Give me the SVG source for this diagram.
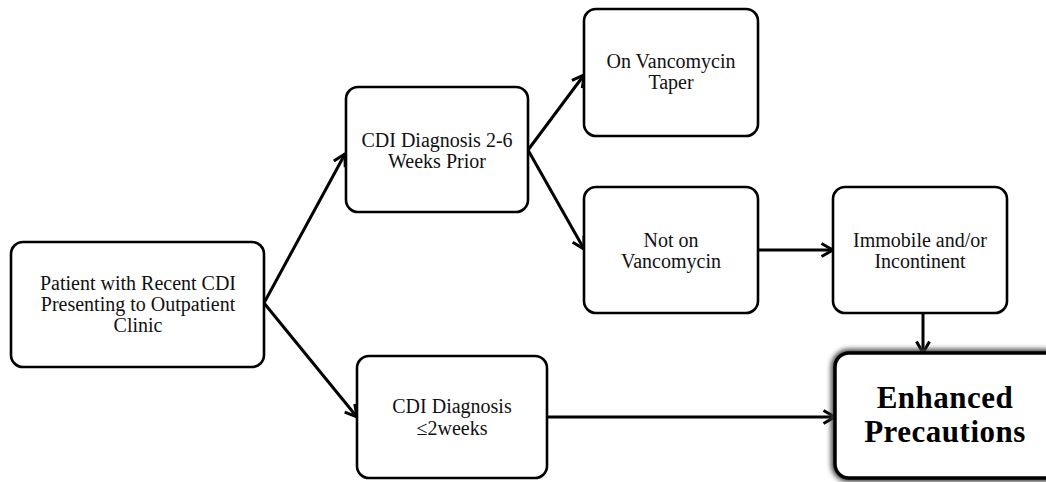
<svg xmlns="http://www.w3.org/2000/svg" width="1046" height="482" viewBox="0 0 1046 482">
<style>
.box{fill:#fff;stroke:#000;stroke-width:2.6}
.t{font-family:"Liberation Serif","Times New Roman",serif;font-size:20px;fill:#111;text-anchor:middle}
.tb{font-family:"Liberation Serif","Times New Roman",serif;font-size:31px;font-weight:bold;fill:#000;text-anchor:middle;letter-spacing:0.5px}
.c{fill:none;stroke:#000;stroke-width:3;marker-end:url(#arr)}
</style>
<defs>
<marker id="arr" viewBox="0 0 16 16" refX="14.5" refY="8" markerWidth="16" markerHeight="16" markerUnits="userSpaceOnUse" orient="auto">
<path d="M3,1.5 L14.5,8 L3,14.5" fill="none" stroke="#000" stroke-width="3"/>
</marker>
<filter id="glow" x="-10%" y="-15%" width="120%" height="130%">
<feGaussianBlur stdDeviation="2.5"/>
</filter>
</defs>
<rect width="1046" height="482" fill="#fff"/>
<g id="connectors">
<line class="c" x1="264" y1="303" x2="345" y2="154"/>
<line class="c" x1="264" y1="303" x2="357" y2="417"/>
<line class="c" x1="528" y1="150" x2="584" y2="75"/>
<line class="c" x1="528" y1="150" x2="584" y2="249"/>
<line class="c" x1="758" y1="250" x2="833" y2="250"/>
<line class="c" x1="923" y1="313" x2="923" y2="353"/>
<line class="c" x1="547" y1="417" x2="835" y2="417"/>
</g>
<g id="patient">
<rect class="box" x="11" y="242" width="253" height="125" rx="12"/>
<text class="t" x="138" y="290">Patient with Recent CDI</text>
<text class="t" x="138" y="311">Presenting to Outpatient</text>
<text class="t" x="138" y="332">Clinic</text>
</g>
<g id="cdi26">
<rect class="box" x="346" y="87" width="182" height="125" rx="12"/>
<text class="t" x="437" y="147">CDI Diagnosis 2-6</text>
<text class="t" x="437" y="168">Weeks Prior</text>
</g>
<g id="taper">
<rect class="box" x="584" y="9" width="174" height="127" rx="12"/>
<text class="t" x="671" y="68">On Vancomycin</text>
<text class="t" x="671" y="89">Taper</text>
</g>
<g id="notvanc">
<rect class="box" x="584" y="187" width="174" height="126" rx="12"/>
<text class="t" x="671" y="247">Not on</text>
<text class="t" x="671" y="268">Vancomycin</text>
</g>
<g id="immobile">
<rect class="box" x="833" y="187" width="174" height="126" rx="12"/>
<text class="t" x="920" y="247">Immobile and/or</text>
<text class="t" x="920" y="268">Incontinent</text>
</g>
<g id="cdi2">
<rect class="box" x="357" y="356" width="190" height="122" rx="12"/>
<text class="t" x="452" y="413">CDI Diagnosis</text>
<text class="t" x="452" y="435">≤2weeks</text>
</g>
<g id="enhanced">
<rect x="835" y="353" width="225" height="125" rx="14" fill="none" stroke="#444" stroke-width="8" filter="url(#glow)"/>
<rect x="835" y="353" width="225" height="125" rx="14" fill="#fff" stroke="#000" stroke-width="3.5"/>
<text class="tb" x="945" y="408">Enhanced</text>
<text class="tb" x="945" y="442">Precautions</text>
</g>
</svg>
